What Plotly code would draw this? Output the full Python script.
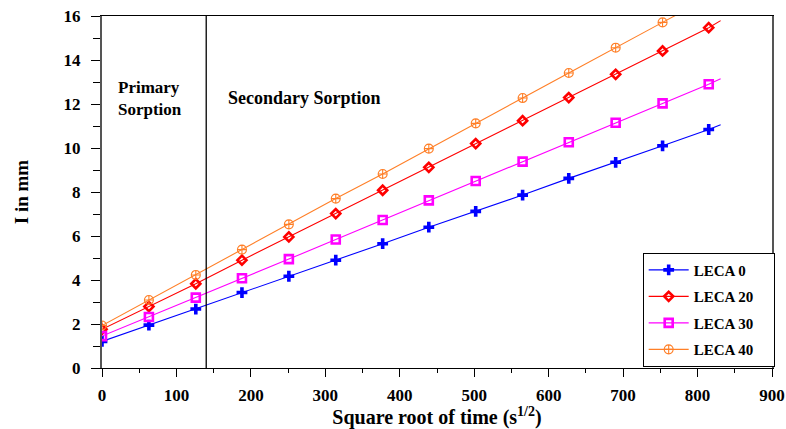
import plotly.graph_objects as go

# ---- data ----
x_sqrt_time = [0, 63, 126, 188, 251, 314, 377, 439, 502, 565, 627, 690, 753, 815]
leca0 = [1.21, 1.95, 2.68, 3.43, 4.17, 4.90, 5.65, 6.40, 7.12, 7.86, 8.62, 9.35, 10.10, 10.84]
leca20 = [1.76, 2.79, 3.83, 4.90, 5.96, 7.02, 8.08, 9.12, 10.20, 11.24, 12.29, 13.35, 14.41, 15.47]
leca30 = [1.45, 2.32, 3.20, 4.08, 4.95, 5.84, 6.73, 7.62, 8.50, 9.38, 10.26, 11.15, 12.03, 12.90]
leca40 = [1.93, 3.09, 4.23, 5.38, 6.53, 7.70, 8.82, 9.97, 11.12, 12.27, 13.41, 14.56, 15.71]
line_end_x = 831
line_end_y = [11.06, 15.79, 13.15, 17.14]
series_names = ["LECA 0", "LECA 20", "LECA 30", "LECA 40"]
boundary_x = 140

FONT = "Liberation Serif"
colors = ["#0000ff", "#ff0000", "#ff00ff", "#ff7f27"]
symbols = ["cross", "diamond-open", "square-open", "circle-cross-open"]
msizes = [9, 7, 8, 9]
mlw = [0, 2.6, 2.6, 1.1]
data = [leca0, leca20, leca30, leca40]

fig = go.Figure()
for i, (name, ys) in enumerate(zip(series_names, data)):
    xs = x_sqrt_time[:len(ys)]
    fig.add_trace(go.Scatter(
        x=[xs[-1], line_end_x], y=[ys[-1], line_end_y[i]], mode="lines",
        line=dict(color=colors[i], width=1.1), showlegend=False,
        legendgroup=name, hoverinfo="skip"))
    fig.add_trace(go.Scatter(
        x=xs, y=ys, mode="lines+markers",
        name="<b>" + name + "</b>\u00a0\u00a0\u00a0\u00a0", legendgroup=name,
        line=dict(color=colors[i], width=1.1),
        marker=dict(symbol=symbols[i], size=msizes[i], color=colors[i],
                    line=dict(color=colors[i], width=mlw[i]))))

fig.add_shape(type="line", xref="x", yref="y", x0=boundary_x, x1=boundary_x,
              y0=0, y1=16, line=dict(color="black", width=1.3))

fig.add_annotation(x=65, y=12.26, xref="x", yref="y", text="<b>Primary<br>Sorption</b>",
                   showarrow=False, align="left", xanchor="center",
                   font=dict(family=FONT, size=17, color="black"))
fig.add_annotation(x=272, y=12.26, xref="x", yref="y", text="<b>Secondary Sorption</b>",
                   showarrow=False, xanchor="center",
                   font=dict(family=FONT, size=18, color="black"))

fig.update_layout(
    width=786, height=429,
    margin=dict(l=102, r=14, t=16, b=61, autoexpand=False),
    paper_bgcolor="white", plot_bgcolor="white",
    font=dict(family=FONT, size=16, color="black"),
    showlegend=True,
    legend=dict(x=1.004, y=0.004, xanchor="right", yanchor="bottom",
                bgcolor="white", bordercolor="black", borderwidth=1,
                font=dict(family=FONT, size=15, color="black"),
                tracegroupgap=4, itemwidth=40),
)
fig.update_xaxes(
    range=[0, 900], dtick=100, tick0=0, showgrid=False, zeroline=False, automargin=False,
    showline=True, linecolor="black", linewidth=1, mirror=True,
    ticks="outside", ticklen=8, tickcolor="black", tickwidth=1,
    minor=dict(dtick=50, ticks="outside", ticklen=4, tickcolor="black"),
    tickfont=dict(family=FONT, size=17, color="black"), ticklabelstandoff=4,
    tickprefix="<b>", ticksuffix="</b>",
    title=dict(text="<b>Square root of time (s<sup>1/2</sup>)</b>",
               font=dict(family=FONT, size=20, color="black"), standoff=4),
)
fig.update_yaxes(
    range=[0, 16], dtick=2, tick0=0, showgrid=False, zeroline=False, automargin=False,
    showline=True, linecolor="#555555", linewidth=2, mirror=True,
    ticks="outside", ticklen=9, tickcolor="black", tickwidth=1,
    minor=dict(dtick=1, ticks="outside", ticklen=7, tickcolor="black"),
    tickfont=dict(family=FONT, size=17, color="black"), ticklabelstandoff=7,
    tickprefix="<b>", ticksuffix="</b>",
    title=dict(text="<b>I in mm</b>", font=dict(family=FONT, size=19, color="black"),
               standoff=30),
)
fig.write_html("out.html", config={"displayModeBar": False},
               post_script="document.body.style.margin='0px';")
